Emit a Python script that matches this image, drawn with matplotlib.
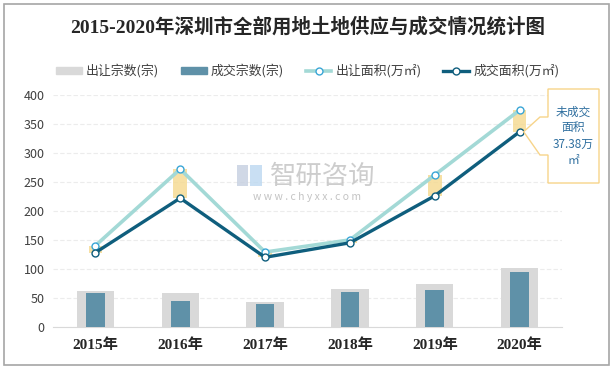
import matplotlib.pyplot as plt
from matplotlib.patches import Polygon, Rectangle
from matplotlib.lines import Line2D

plt.rcParams['font.family'] = ['Noto Sans CJK SC', 'DejaVu Sans']

years = ['2015年', '2016年', '2017年', '2018年', '2019年', '2020年']
supply_cnt = [62, 59, 43, 66, 74, 102]      # 出让宗数(宗)
deal_cnt = [59, 45, 40, 60, 64, 95]         # 成交宗数(宗)
supply_area = [140, 272, 129, 150, 262, 373.8]  # 出让面积(万㎡)
deal_area = [128, 222, 120, 145, 226, 336.4]    # 成交面积(万㎡)

c_grey = '#d9d9d9'
c_bar = '#5f91a8'
c_light = '#a3d9d6'
c_dark = '#0f5e7d'
c_band = '#f5d98e'

fig = plt.figure(figsize=(6.15, 3.69), dpi=100)
ax = fig.add_axes([0.086, 0.114, 0.828, 0.629])

x = list(range(len(years)))
ax.bar(x, supply_cnt, width=0.44, color=c_grey, zorder=2)
ax.bar(x, deal_cnt, width=0.22, color=c_bar, zorder=3)

# bandes jaunes entre les deux courbes
gap = [s - d for s, d in zip(supply_area, deal_area)]
ax.bar(x, gap, bottom=deal_area, width=0.16, color=c_band, alpha=0.8, zorder=4)

ax.plot(x, supply_area, color=c_light, lw=2.6, marker='o', ms=5,
        mfc='white', mec='#3aa6d6', mew=1, zorder=5)
ax.plot(x, deal_area, color=c_dark, lw=2.4, marker='o', ms=5,
        mfc='white', mec=c_dark, mew=1, zorder=6)

ax.set_xlim(-0.5, 5.5)
ax.set_ylim(0, 400)
ax.set_yticks(range(0, 401, 50))
ax.set_xticks(x)
ax.set_xticklabels(years, family=['Liberation Serif', 'Noto Sans CJK SC'],
                   fontweight='bold', fontsize=11, color='#262626')
ax.tick_params(axis='y', labelsize=9, colors='#404040', length=0, pad=6)
ax.tick_params(axis='x', length=0, pad=8)
ax.grid(axis='y', color='#ececec', lw=0.8, ls=(0, (4, 2)))
ax.set_axisbelow(True)
for s in ['top', 'right', 'left']:
    ax.spines[s].set_visible(False)
ax.spines['bottom'].set_color('#d9d9d9')

fig.text(0.5, 0.927, '2015-2020年深圳市全部用地土地供应与成交情况统计图',
         ha='center', va='center', fontsize=14, fontweight='bold', color='#262626',
         family=['Liberation Serif', 'Noto Sans CJK SC'])

handles = [Rectangle((0, 0), 1, 1, color=c_grey),
           Rectangle((0, 0), 1, 1, color=c_bar),
           Line2D([], [], color=c_light, lw=2.6, marker='o', ms=5, mfc='white', mec='#3aa6d6'),
           Line2D([], [], color=c_dark, lw=2.4, marker='o', ms=5, mfc='white', mec=c_dark)]
labels = ['出让宗数(宗)', '成交宗数(宗)', '出让面积(万㎡)', '成交面积(万㎡)']
fig.legend(handles, labels, loc='center', bbox_to_anchor=(0.5, 0.808), ncol=4,
           frameon=False, fontsize=9.3, handlelength=2.0, handleheight=0.5,
           columnspacing=1.7, handletextpad=0.3, labelcolor='#404040')

# bulle d'annotation pour 2020
px, py = ax.transData.transform((5, deal_area[5]))
W, H = 615, 369
pts = [(548, 89), (599, 89), (599, 183), (548, 183), (548, 155), (540, 155),
       (px + 4, H - py), (540, 117), (548, 117)]
pts = [(a / W, 1 - b / H) for a, b in pts]
fig.patches.append(Polygon(pts, closed=True, transform=fig.transFigure,
                           facecolor='white', edgecolor='#f7d48a', lw=1, zorder=7))
fig.text(573.5 / W, 1 - 136 / H, '未成交\n面积\n37.38万\n㎡', ha='center', va='center',
         fontsize=8.5, color='#2f6f9f', linespacing=1.3, zorder=8)

# filigrane
fig.patches.append(Rectangle((237 / W, 1 - 186 / H), 11 / W, 21 / H, transform=fig.transFigure,
                             facecolor='#c5cfe0', edgecolor='none', alpha=0.8))
fig.patches.append(Rectangle((250 / W, 1 - 186 / H), 12 / W, 21 / H, transform=fig.transFigure,
                             facecolor='#bcd8f0', edgecolor='none', alpha=0.8))
fig.text(323 / W, 1 - 176 / H, '智研咨询', ha='center', va='center', fontsize=19,
         color='#bdbdbd', alpha=0.75)
fig.text(307 / W, 1 - 197 / H, 'w w w . c h y x x . c o m', ha='center', va='center',
         fontsize=7.5, color='#b5b5b5', alpha=0.8)

fig.patches.append(Rectangle((4 / W, 4 / H), 605 / W, 361 / H, transform=fig.transFigure,
                             fill=False, edgecolor='#a6a6a6', lw=1.2))

fig.savefig('out.png', dpi=100)
